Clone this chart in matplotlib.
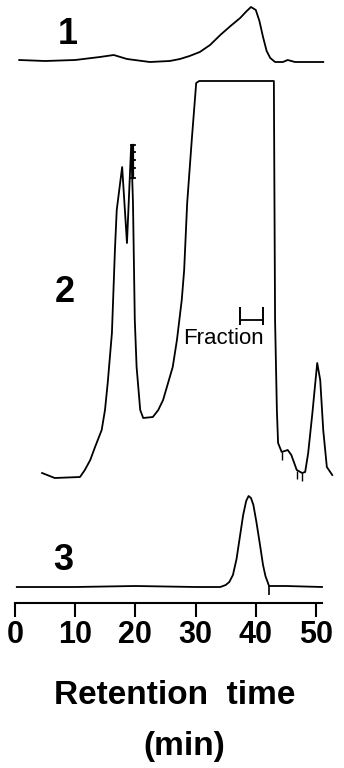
import matplotlib.pyplot as plt
import numpy as np

plt.rcParams['font.family'] = ['Liberation Sans', 'DejaVu Sans']

# retention time (min) and detector signal (arbitrary units, baseline = 0)
t1 = [0.7, 5, 10, 14.1, 16.4, 18.6, 22.4, 25.7, 27.4, 29.0, 30.7, 32.4, 34.1,
      35.8, 37.4, 38.5, 39.2, 40.0, 40.6, 41.2, 41.8, 42.4, 43.2, 44.5, 45.3,
      46.5, 51.2]
s1 = [1, 0, 1, 4, 6, 2, -1, 0, 2, 5, 9, 16, 26, 35, 43, 50, 54, 51, 40, 24,
      10, 3, -1, -1, 1, -1, -1]

t2 = [4.5, 6.6, 10.8, 11.6, 12.5, 13.3, 14.4, 14.95, 15.4, 16.1, 16.6, 16.9,
      17.8, 18.6, 19.3, 19.6, 19.9, 20.2, 20.8, 21.3, 22.9, 23.8, 24.6, 26.2,
      26.9, 27.7, 28.1, 28.6, 29.4, 30.1, 30.6, 43.0, 43.2, 43.5, 43.7, 44.3,
      45.3, 45.9, 46.8, 47.7, 48.2, 48.7, 49.4, 50.2, 50.7, 51.2, 51.8, 52.7]
s2 = [5, 0, 1, 8, 18, 31, 48, 68, 95, 145, 228, 268, 311, 235, 333, 275, 158,
      111, 68, 60, 61, 68, 78, 111, 138, 178, 208, 275, 341, 395, 397, 397, 158,
      68, 35, 26, 28, 23, 8, 5, 6, 25, 65, 115, 98, 48, 11, 3]

t3 = [0.3, 10, 20, 30, 34.1, 35.0, 35.6, 36.2, 36.8, 37.4, 37.9, 38.4, 38.8,
      39.2, 39.6, 40.1, 40.7, 41.2, 41.6, 41.9, 42.2, 45, 51]
s3 = [0, 0, 1, 0, 0, 2, 5, 12, 28, 52, 72, 86, 91, 89, 82, 65, 42, 22, 11, 6,
      1, 1, 0]

# saturation marks on the second peak of trace 2, and fraction cut marks
sat_t = 19.55
sat_s = [300, 310, 318, 326, 333]
cuts2_t = [44.4, 46.9, 47.7]
cuts2_s = [26, 7, 5]
cut3 = 42.2
fraction = [37.4, 41.2]

labels = ['1', '2', '3']
label_t = [8.8, 8.3, 8.0]
ticks = [0, 10, 20, 30, 40, 50]

base = [542, 125, 16]  # vertical offsets of the three traces

fig = plt.figure(figsize=(3.44, 7.68), dpi=100)
ax = fig.add_axes([0, 1 - 603 / 768, 1, 603 / 768])
ax.set_xlim(-2.49, 54.65)
ax.set_ylim(0, 603)

lw = 1.3
ax.plot(t1, np.array(s1) + base[0], color='black', lw=lw)
ax.plot(t2, np.array(s2) + base[1], color='black', lw=lw)
ax.plot(t3, np.array(s3) + base[2], color='black', lw=lw)

for s in sat_s:
    ax.plot([sat_t - 0.3, sat_t + 0.4], [s + base[1]] * 2, color='black', lw=1.3)
ax.plot([sat_t, sat_t], [sat_s[0] + base[1], sat_s[-1] + base[1]], color='black', lw=1.6)

ax.vlines(cuts2_t, np.array(cuts2_s) + base[1] - 8, np.array(cuts2_s) + base[1],
          color='black', lw=1)
ax.vlines(cut3, base[2] - 8, base[2] + 1, color='black', lw=1.2)

# fraction marker
fy = base[1] + 158
ax.plot(fraction, [fy, fy], color='black', lw=1.3)
ax.vlines(fraction, fy - 5, fy + 13, color='black', lw=1.4)
ax.text(34.7, base[1] + 140, 'Fraction', fontsize=16, ha='center', va='center')

for lab, x, y in zip(labels, label_t, [568, 311, 43]):
    ax.text(x, y, lab, fontsize=26, fontweight='bold', ha='center', va='center')

ax.set_xticks(ticks)
ax.set_xticklabels([str(t) for t in ticks], fontsize=22, fontweight='bold')
ax.tick_params(axis='x', direction='out', length=10, width=1.5, pad=2)
ax.set_yticks([])
for side in ['top', 'left', 'right']:
    ax.spines[side].set_visible(False)
ax.spines['bottom'].set_bounds(0, 51)
ax.spines['bottom'].set_linewidth(1.5)
ax.patch.set_alpha(0)

fig.text(175 / 344, 1 - 696 / 768, 'Retention  time', fontsize=24, fontweight='bold',
         ha='center', va='center')
fig.text(184 / 344, 1 - 747 / 768, '(min)', fontsize=24, fontweight='bold',
         ha='center', va='center')

fig.savefig('out.png', dpi=100)
